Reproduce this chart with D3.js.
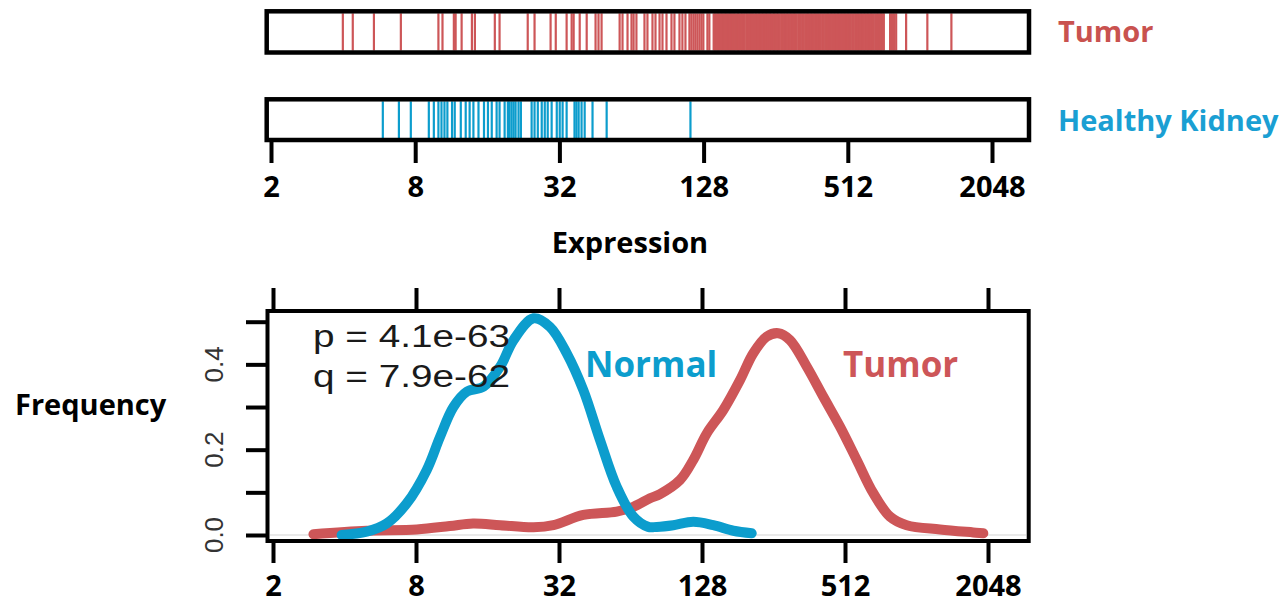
<!DOCTYPE html>
<html>
<head>
<meta charset="utf-8">
<script src="https://cdn.jsdelivr.net/npm/d3@7"></script>
<style>
  body { margin: 0; background: #fff; }
  svg { display: block; }
</style>
</head>
<body>
<svg></svg>
<script>
var width = 1287;
var height = 608;

var red = "#cd5658";
var blue = "#0c9dcd";

// tick values on the log2 expression axes
var exprTicks = [2, 8, 32, 128, 512, 2048];
var freqTicks = [0, 0.1, 0.2, 0.3, 0.4, 0.5];
var freqLabels = [0, 0.2, 0.4];

// rug values (expression)
var tumorRug = [3.99, 4.39, 5.38, 6.97, 10.0, 10.4, 11.6, 11.8, 12.5, 13.8, 14.2, 17.2, 18.0,
  23.6, 25.2, 29.4, 30.9, 34.3, 36.0, 36.7, 38.9, 41.6, 45.3, 46.6, 48.0, 57.1, 58.7, 61.6,
  64.0, 65.3, 67.1, 72.5, 74.6, 78.3, 80.6, 83.8, 86.2, 89.6, 94.0, 96.7, 101.5, 104.4, 107.5,
  111.7, 113.8, 116.1, 118.3, 120.6, 123.0, 125.4, 127.7, 132.8, 135.3,
  141, 143, 145, 147, 149, 151, 153, 155, 157, 159, 161, 163, 165, 167, 169, 171, 173, 176,
  178, 180, 183, 185, 188, 190, 193, 195, 198, 201, 203, 206, 209, 212, 215, 218, 221, 224,
  227, 230, 233, 236, 239, 242, 245, 249, 252, 255, 259, 262, 266, 270, 273, 277, 281, 285,
  289, 293, 297, 301, 305, 309, 313, 318, 322, 326, 331, 335, 340, 345, 349, 354, 359, 364,
  369, 374, 379, 384, 390, 395, 401, 406, 412, 418, 423, 429, 435, 441, 447, 453, 460, 466,
  472, 479, 486, 492, 499, 506, 513, 520, 527, 535, 542, 550, 557, 565, 573, 581, 589, 597,
  605, 614, 622, 631, 640, 648, 657, 667, 676, 685, 695, 704, 714, 724,
  769, 784, 799, 815, 897, 1100, 1386];

var kidneyRug = [5.86, 6.84, 7.67, 9.12, 9.57, 10.0, 10.3, 10.6, 10.9, 11.4, 11.7, 12.4, 13.0,
  13.5, 14.0, 14.7, 15.5, 16.1, 16.7, 17.5, 18.0, 18.9, 19.5, 19.8, 20.2, 20.6, 21.0, 21.6,
  22.1, 24.5, 25.2, 26.0, 27.0, 27.8, 28.6, 29.7, 31.2, 32.1, 33.0, 34.3, 37.0, 37.7, 38.5,
  39.6, 40.8, 44.0, 50.4, 112.8];

// density curves
var normalExpr = [3.89, 4.96, 6.02, 7.31, 8.87, 10.1, 11.5, 13.1, 15.4, 18.1, 20.6, 25.0, 29.3,
  34.5, 40.5, 47.6, 56.0, 65.8, 76.0, 82.5, 96.9, 117.6, 142.8, 173.4, 207.3];
var normalFreq = [0, 0.008, 0.027, 0.074, 0.152, 0.23, 0.30, 0.336, 0.348, 0.395, 0.457, 0.508,
  0.488, 0.426, 0.34, 0.223, 0.113, 0.043, 0.019, 0.019, 0.023, 0.031, 0.023, 0.010, 0.004];

var tumorExpr = [2.96, 4.96, 8.06, 11.1, 13.9, 18.1, 25.0, 30.3, 40.5, 56.0, 65.8, 77.3, 85.2,
  103.4, 117.6, 134, 157.4, 185, 210.4, 239.7, 268.2, 300.4, 353.2, 415, 487.7, 573.6, 673.8,
  791.9, 931.2, 1286, 1776, 1957];
var tumorFreq = [0.002, 0.010, 0.013, 0.021, 0.027, 0.023, 0.018, 0.023, 0.047, 0.055, 0.066,
  0.086, 0.096, 0.129, 0.176, 0.238, 0.293, 0.363, 0.426, 0.465, 0.473, 0.457, 0.395, 0.324,
  0.254, 0.176, 0.098, 0.043, 0.023, 0.013, 0.006, 0.004];

var svg = d3.select("svg").attr("width", width).attr("height", height);

var boldFont = "'Open Sans', sans-serif";
var plainFont = "'Liberation Sans', Arial, sans-serif";

var xTop = d3.scaleLog().base(2).domain([2, 2048]).range([271, 992]);
var xBottom = d3.scaleLog().base(2).domain([2, 2048]).range([273, 988]);
var yScale = d3.scaleLinear().domain([0, 0.5]).range([535, 321.7]);

function styleAxis(g) {
  g.select(".domain").remove();
  g.selectAll(".tick line").attr("stroke", "#000").attr("stroke-width", 4);
  g.selectAll(".tick text")
    .attr("fill", "#000")
    .style("font-family", boldFont)
    .style("font-weight", 700)
    .style("font-size", "29px");
}

// rug strips
function rug(values, y0, y1, color) {
  svg.append("g")
    .selectAll("line")
    .data(values)
    .enter()
    .append("line")
    .attr("x1", d => xTop(d))
    .attr("x2", d => xTop(d))
    .attr("y1", y0 + 2)
    .attr("y2", y1 - 2)
    .attr("stroke", color)
    .attr("stroke-width", 2.2);
  svg.append("rect")
    .attr("x", 266.7)
    .attr("y", y0)
    .attr("width", 1029 - 266.7)
    .attr("height", y1 - y0)
    .attr("fill", "none")
    .attr("stroke", "#000")
    .attr("stroke-width", 4.5);
}

rug(tumorRug, 11.3, 52.5, red);
rug(kidneyRug, 99.3, 140, blue);

svg.append("text")
  .attr("x", 1058).attr("y", 42)
  .attr("fill", "#c9524f")
  .style("font-family", boldFont).style("font-weight", 700).style("font-size", "29px")
  .text("Tumor");

svg.append("text")
  .attr("x", 1058).attr("y", 131)
  .attr("fill", "#1a9fd3")
  .style("font-family", boldFont).style("font-weight", 700).style("font-size", "29px")
  .text("Healthy Kidney");

svg.append("g")
  .attr("transform", "translate(0,142)")
  .call(d3.axisBottom(xTop).tickValues(exprTicks).tickSize(21).tickPadding(13)
    .tickFormat(d3.format("d")))
  .call(styleAxis);

svg.append("text")
  .attr("x", 630).attr("y", 253)
  .attr("text-anchor", "middle")
  .style("font-family", boldFont).style("font-weight", 700).style("font-size", "29px")
  .text("Expression");

// density plot
svg.append("line")
  .attr("x1", 270).attr("x2", 1026)
  .attr("y1", yScale(0)).attr("y2", yScale(0))
  .attr("stroke", "#e2e2e2").attr("stroke-width", 1.5);

var line = d3.line()
  .x(d => xBottom(d[0]))
  .y(d => yScale(d[1]))
  .curve(d3.curveCatmullRom.alpha(0.5));

svg.append("path")
  .datum(d3.zip(tumorExpr, tumorFreq))
  .attr("d", line)
  .attr("fill", "none")
  .attr("stroke", red)
  .attr("stroke-width", 10)
  .attr("stroke-linecap", "round")
  .attr("stroke-linejoin", "round");

svg.append("path")
  .datum(d3.zip(normalExpr, normalFreq))
  .attr("d", line)
  .attr("fill", "none")
  .attr("stroke", blue)
  .attr("stroke-width", 10)
  .attr("stroke-linecap", "round")
  .attr("stroke-linejoin", "round");

svg.append("rect")
  .attr("x", 267.5).attr("y", 311)
  .attr("width", 1028.7 - 267.5).attr("height", 541 - 311)
  .attr("fill", "none")
  .attr("stroke", "#000")
  .attr("stroke-width", 4);

svg.append("g")
  .attr("transform", "translate(0,309)")
  .call(d3.axisTop(xBottom).tickValues(exprTicks).tickSize(21).tickFormat(""))
  .call(styleAxis);

svg.append("g")
  .attr("transform", "translate(0,543)")
  .call(d3.axisBottom(xBottom).tickValues(exprTicks).tickSize(20).tickPadding(12)
    .tickFormat(d3.format("d")))
  .call(styleAxis);

svg.append("g")
  .attr("transform", "translate(266,0)")
  .call(d3.axisLeft(yScale).tickValues(freqTicks).tickSize(20).tickFormat(""))
  .call(styleAxis);

svg.append("g")
  .selectAll("text")
  .data(freqLabels)
  .enter()
  .append("text")
  .attr("transform", d => "translate(223," + yScale(d) + ") rotate(-90)")
  .attr("text-anchor", "middle")
  .attr("fill", "#333")
  .style("font-family", plainFont)
  .style("font-size", "26px")
  .text(d3.format(".1f"));

svg.append("text")
  .attr("x", 313).attr("y", 347)
  .attr("fill", "#1a1a1a")
  .attr("textLength", 197).attr("lengthAdjust", "spacingAndGlyphs")
  .style("font-family", plainFont).style("font-size", "31px")
  .text("p = 4.1e-63");

svg.append("text")
  .attr("x", 313).attr("y", 387)
  .attr("fill", "#1a1a1a")
  .attr("textLength", 197).attr("lengthAdjust", "spacingAndGlyphs")
  .style("font-family", plainFont).style("font-size", "31px")
  .text("q = 7.9e-62");

svg.append("text")
  .attr("x", 585).attr("y", 377)
  .attr("fill", blue)
  .style("font-family", boldFont).style("font-weight", 700).style("font-size", "35px")
  .text("Normal");

svg.append("text")
  .attr("x", 843).attr("y", 377)
  .attr("fill", red)
  .style("font-family", boldFont).style("font-weight", 700).style("font-size", "35px")
  .text("Tumor");

svg.append("text")
  .attr("x", 15).attr("y", 415)
  .style("font-family", boldFont).style("font-weight", 700).style("font-size", "29px")
  .text("Frequency");
</script>
</body>
</html>
